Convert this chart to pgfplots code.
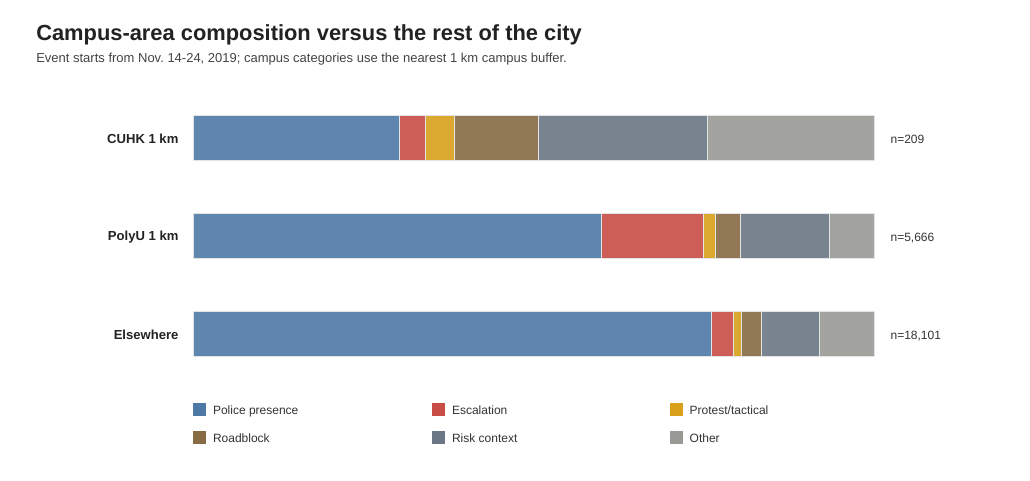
\documentclass[border=0pt]{standalone}
\usepackage{pgfplots}
\pgfplotsset{compat=1.18}
\usepackage{pgfplotstable}
\usepackage{fontspec}
\setmainfont{Liberation Sans}
\definecolor{cpol}{HTML}{4E79A7}
\definecolor{cesc}{HTML}{C84D45}
\definecolor{cpro}{HTML}{D9A01A}
\definecolor{croa}{HTML}{876B43}
\definecolor{cris}{HTML}{6B7784}
\definecolor{coth}{HTML}{999996}
\definecolor{cbord}{HTML}{E4E4E4}
\definecolor{ctitle}{HTML}{222222}
\definecolor{csub}{HTML}{444444}
\definecolor{ctxt}{HTML}{333333}
\pgfplotstableread{
y police esc prot road risk other
0 30.2 3.8 4.3 12.3 24.9 24.5
1 59.9 15.0 1.8 3.6 13.1 6.6
2 76.1 3.2 1.1 3.0 8.5 8.1
}\data
\begin{document}
\frenchspacing
\begin{tikzpicture}
\path[use as bounding box] (0,0) rectangle (772.5pt,-360pt);
\fill[white] (0,0) rectangle (772.5pt,-360pt);
\node[anchor=base west, inner sep=0pt, font=\fontsize{16.4}{19}\selectfont\bfseries, text=ctitle] at (27pt,-30.5pt) {Campus-area composition versus the rest of the city};
\node[anchor=base west, inner sep=0pt, font=\fontsize{9.75}{12}\selectfont, text=csub] at (27pt,-47pt) {Event starts from Nov. 14-24, 2019; campus categories use the nearest 1 km campus buffer.};
\begin{axis}[
  at={(145pt,-66.5pt)}, anchor=north west,
  width=510.75pt, height=220.5pt, scale only axis,
  xbar stacked, bar width=33.75pt,
  xmin=0, xmax=100, ymin=-0.5, ymax=2.5, y dir=reverse,
  axis line style={draw=none}, xtick=\empty,
  ytick={0,1,2}, yticklabels={CUHK 1 km,PolyU 1 km,Elsewhere},
  major tick length=0pt,
  yticklabel style={font=\fontsize{9.8}{12}\selectfont\bfseries, text=ctitle, inner sep=0pt, xshift=-11pt, yshift=-1.2pt},
  clip=false,
  every axis plot/.append style={draw=cbord, line width=0.5pt, fill opacity=0.9},
  legend columns=3, legend cell align=left,
  legend image code/.code={\fill[#1, draw=none, fill opacity=1] (0pt,-3.375pt) rectangle (9.75pt,6.375pt); \path (14.5pt,0pt);},
  legend style={at={(0,-0.069)}, anchor=north west, draw=none, fill=none, inner sep=0pt, outer sep=0pt,
    row sep=10.15pt, font=\fontsize{9}{11}\selectfont, text=ctxt,
    nodes={inner sep=0pt, text height=7pt, text depth=2pt}},
]
\addplot[fill=cpol] table[x=police, y=y] {\data};
\addlegendentry{\makebox[164.5pt][l]{Police presence}}
\addplot[fill=cesc] table[x=esc, y=y] {\data};
\addlegendentry{\makebox[163.5pt][l]{Escalation}}
\addplot[fill=cpro] table[x=prot, y=y] {\data};
\addlegendentry{\makebox[100pt][l]{Protest/tactical}}
\addplot[fill=croa] table[x=road, y=y] {\data};
\addlegendentry{\makebox[164.5pt][l]{Roadblock}}
\addplot[fill=cris] table[x=risk, y=y] {\data};
\addlegendentry{\makebox[163.5pt][l]{Risk context}}
\addplot[fill=coth] table[x=other, y=y] {\data};
\addlegendentry{\makebox[100pt][l]{Other}}
\node[anchor=west, xshift=12pt, yshift=-1.5pt, inner sep=0pt, font=\fontsize{9}{11}\selectfont, text=ctxt] at (axis cs:100,0) {n=209};
\node[anchor=west, xshift=12pt, yshift=-1.5pt, inner sep=0pt, font=\fontsize{9}{11}\selectfont, text=ctxt] at (axis cs:100,1) {n=5,666};
\node[anchor=west, xshift=12pt, yshift=-1.5pt, inner sep=0pt, font=\fontsize{9}{11}\selectfont, text=ctxt] at (axis cs:100,2) {n=18,101};
\end{axis}
\end{tikzpicture}
\end{document}
